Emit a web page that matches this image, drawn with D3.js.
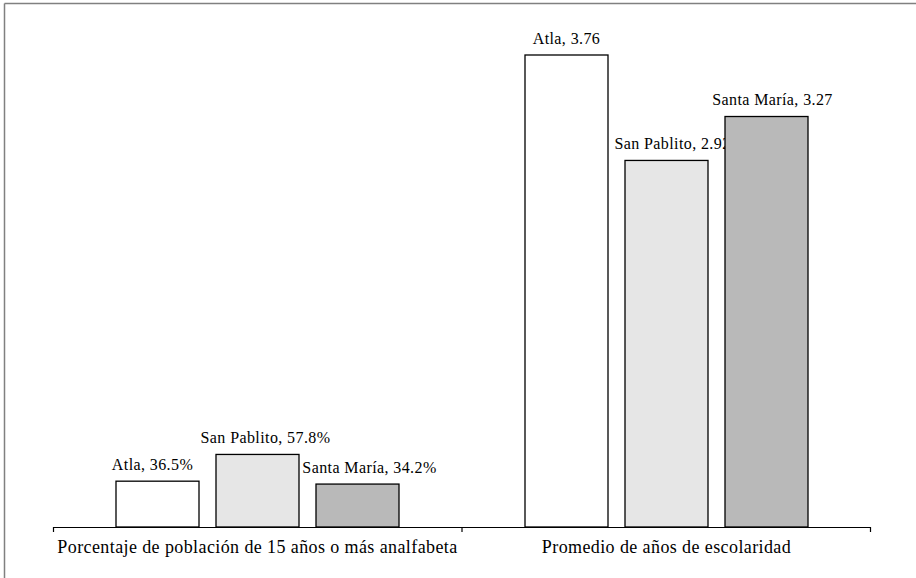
<!DOCTYPE html>
<html>
<head>
<meta charset="utf-8">
<script src="https://cdn.jsdelivr.net/npm/d3@7"></script>
<style>
  body { margin: 0; background: #fff; }
  text { font-family: "Liberation Serif", serif; fill: #000; }
</style>
</head>
<body>
<svg id="chart"></svg>
<script>
const categories = ["Porcentaje de población de 15 años o más analfabeta", "Promedio de años de escolaridad"];
const places = ["Atla", "San Pablito", "Santa María"];
// analfabetismo plotted as fraction, escolaridad in years
const analfabeta = [0.365, 0.578, 0.342];
const escolaridad = [3.76, 2.92, 3.27];
const labelText = [
  ["Atla, 36.5%", "San Pablito, 57.8%", "Santa María, 34.2%"],
  ["Atla, 3.76", "San Pablito, 2.92", "Santa María, 3.27"]
];
const colors = ["#ffffff", "#e6e6e6", "#b9b9b9"];
// label nudges (px), like the hand-moved labels in the original
const labelNudge = [[-5, 8, 12], [0, 6, 6]];

const W = 916, H = 578;
const margin = {top: 8, right: 45, bottom: 51, left: 53};
const width = W - margin.left - margin.right;
const height = H - margin.top - margin.bottom;

const svg = d3.select("#chart").attr("width", W).attr("height", H);

// frame (only top and left edges show)
svg.append("line").attr("x1", 4.5).attr("x2", W).attr("y1", 3.5).attr("y2", 3.5)
  .attr("stroke", "#808080").attr("stroke-width", 1.5);
svg.append("line").attr("x1", 4.5).attr("x2", 4.5).attr("y1", 3.5).attr("y2", H)
  .attr("stroke", "#808080").attr("stroke-width", 1.5);

const g = svg.append("g")
  .attr("transform", "translate(" + margin.left + "," + margin.top + ")");

const x0 = d3.scaleBand().domain(categories).range([0, width]);
const x1 = d3.scaleBand().domain(places)
  .range([63, x0.bandwidth() - 63]).paddingInner(0.17).paddingOuter(0);
const y = d3.scaleLinear().domain([0, 3.76]).range([height, 47]);

const series = [analfabeta, escolaridad];

categories.forEach(function(c, ci) {
  const grp = g.append("g").attr("transform", "translate(" + x0(c) + ",0)");
  places.forEach(function(p, pi) {
    const v = series[ci][pi];
    grp.append("rect")
      .attr("x", x1(p))
      .attr("y", y(v))
      .attr("width", x1.bandwidth())
      .attr("height", height - y(v))
      .attr("fill", colors[pi])
      .attr("stroke", "#000")
      .attr("stroke-width", 1.3);
    grp.append("text")
      .attr("x", x1(p) + x1.bandwidth() / 2 + labelNudge[ci][pi])
      .attr("y", y(v) - 11.5)
      .attr("text-anchor", "middle")
      .style("font-size", "16px")
      .style("letter-spacing", "0.4px")
      .text(labelText[ci][pi]);
  });
});

const xAxis = d3.axisBottom(x0).tickSize(0).tickFormat("");
const ax = g.append("g").attr("transform", "translate(0," + height + ")").call(xAxis);
ax.select(".domain").remove();
ax.append("path")
  .attr("d", "M0.5,5V0.5H" + (width - 0.5) + "V5")
  .attr("fill", "none").attr("stroke", "#000").attr("stroke-width", 1.2);
ax.append("line")
  .attr("x1", x0.bandwidth()).attr("x2", x0.bandwidth())
  .attr("y1", 0).attr("y2", 5)
  .attr("stroke", "#000").attr("stroke-width", 1.2);

ax.selectAll(".cat-label").data(categories).enter().append("text")
  .attr("class", "cat-label")
  .attr("x", d => x0(d) + x0.bandwidth() / 2)
  .attr("y", 26)
  .attr("text-anchor", "middle")
  .style("font-size", "18px")
  .style("letter-spacing", "0.4px")
  .text(d => d);
</script>
</body>
</html>
